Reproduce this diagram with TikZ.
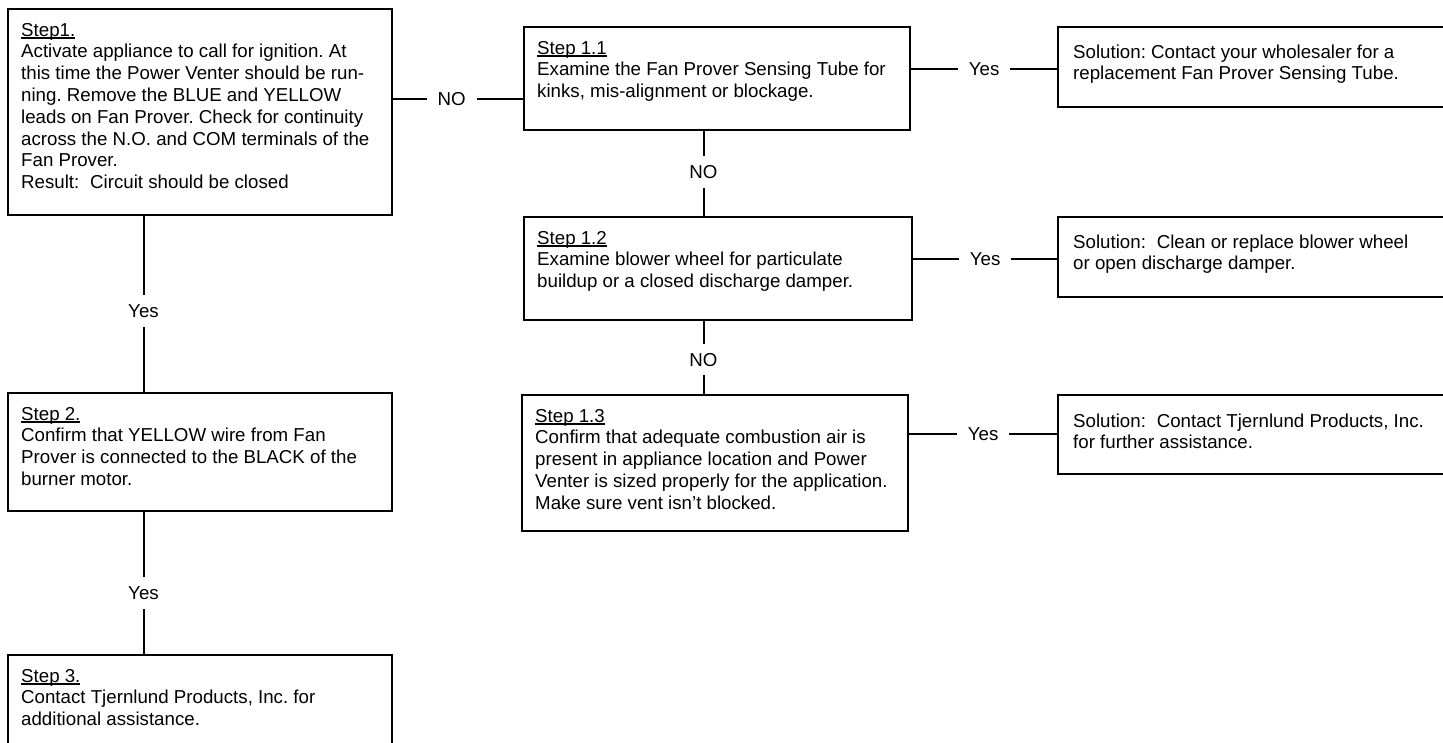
\documentclass[tikz,border=0pt]{standalone}
\usepackage{fontspec}
\setmainfont{Liberation Sans}
\frenchspacing
\newcommand\diafont{\fontsize{18.7pt}{21.8pt}\selectfont}
\newcommand\boxtext[1]{\parbox[t]{440pt}{\diafont\frenchspacing\raggedright\leavevmode #1}}
\newcommand\stepul[1]{\leavevmode\setbox0\hbox{#1}\rlap{\rule[-2.6pt]{\wd0}{1.3pt}}\box0}
\tikzset{
  box/.style={draw, line width=2.2pt, anchor=north west, inner sep=0pt},
  txt/.style={anchor=base west, inner sep=0pt},
  lbl/.style={fill=white, inner xsep=11pt, inner ysep=9pt, text height=13.4pt, text depth=0pt, font=\diafont},
  conn/.style={line width=2pt}
}
\begin{document}
\begin{tikzpicture}[x=1pt,y=-1pt]
\clip (0,0) rectangle (1443,742);
\fill[white] (0,0) rectangle (1443,742);
% boxes
\node[box, minimum width=384pt, minimum height=206pt] (s1) at (7,8) {};
\node[box, minimum width=384pt, minimum height=118pt] (s2) at (7,392) {};
\node[box, minimum width=384pt, minimum height=130pt] (s3) at (7,654) {};
\node[box, minimum width=386pt, minimum height=103pt] (s11) at (523,26) {};
\node[box, minimum width=388pt, minimum height=103pt] (s12) at (523,216) {};
\node[box, minimum width=386pt, minimum height=136pt] (s13) at (521,394) {};
\node[box, minimum width=420pt, minimum height=80pt] (sol1) at (1057,26) {};
\node[box, minimum width=420pt, minimum height=80pt] (sol2) at (1057,216) {};
\node[box, minimum width=420pt, minimum height=79pt] (sol3) at (1057,394) {};
% texts
\node[txt] (t1) at (21,36) {\boxtext{\stepul{Step1.}\\
Activate appliance to call for ignition. At\\
this time the Power Venter should be run-\\
ning. Remove the BLUE and YELLOW\\
leads on Fan Prover. Check for continuity\\
across the N.O. and COM terminals of the\\
Fan Prover.\\
Result:\hspace{0.3em} Circuit should be closed}};
\node[txt] (t2) at (21,420) {\boxtext{\stepul{Step 2.}\\
Confirm that YELLOW wire from Fan\\
Prover is connected to the BLACK of the\\
burner motor.}};
\node[txt] (t3) at (21,682) {\boxtext{\stepul{Step 3.}\\
Contact Tjernlund Products, Inc. for\\
additional assistance.}};
\node[txt] (t11) at (537,54) {\boxtext{\stepul{Step 1.1}\\
Examine the Fan Prover Sensing Tube for\\
kinks, mis-alignment or blockage.}};
\node[txt] (t12) at (537,244) {\boxtext{\stepul{Step 1.2}\\
Examine blower wheel for particulate\\
buildup or a closed discharge damper.}};
\node[txt] (t13) at (535,422) {\boxtext{\stepul{Step 1.3}\\
Confirm that adequate combustion air is\\
present in appliance location and Power\\
Venter is sized properly for the application.\\
Make sure vent isn’t blocked.}};
\node[txt] (ts1) at (1073,58) {\boxtext{Solution: Contact your wholesaler for a\\
replacement Fan Prover Sensing Tube.}};
\node[txt] (ts2) at (1073,248) {\boxtext{Solution:\hspace{0.3em} Clean or replace blower wheel\\
or open discharge damper.}};
\node[txt] (ts3) at (1073,427) {\boxtext{Solution:\hspace{0.3em} Contact Tjernlund Products, Inc.\\
for further assistance.}};
% helper coordinates
\coordinate (c1) at (143.5,0);
\coordinate (c2) at (703.5,0);
\coordinate (r1) at (0,99);
\coordinate (r2) at (0,69);
\coordinate (r3) at (0,259);
\coordinate (r4) at (0,434);
% connectors
\draw[conn] (s1.east |- r1) -- node[lbl, pos=0.45]{NO} (s11.west |- r1);
\draw[conn] (s11.east |- r2) -- node[lbl]{Yes} (sol1.west |- r2);
\draw[conn] (s12.east |- r3) -- node[lbl]{Yes} (sol2.west |- r3);
\draw[conn] (s13.east |- r4) -- node[lbl]{Yes} (sol3.west |- r4);
\draw[conn] (s1.south -| c1) -- node[lbl, pos=0.54]{Yes} (s2.north -| c1);
\draw[conn] (s2.south -| c1) -- node[lbl, pos=0.57]{Yes} (s3.north -| c1);
\draw[conn] (s11.south -| c2) -- node[lbl, pos=0.48]{NO} (s12.north -| c2);
\draw[conn] (s12.south -| c2) -- node[lbl, pos=0.53]{NO} (s13.north -| c2);
\end{tikzpicture}
\end{document}
